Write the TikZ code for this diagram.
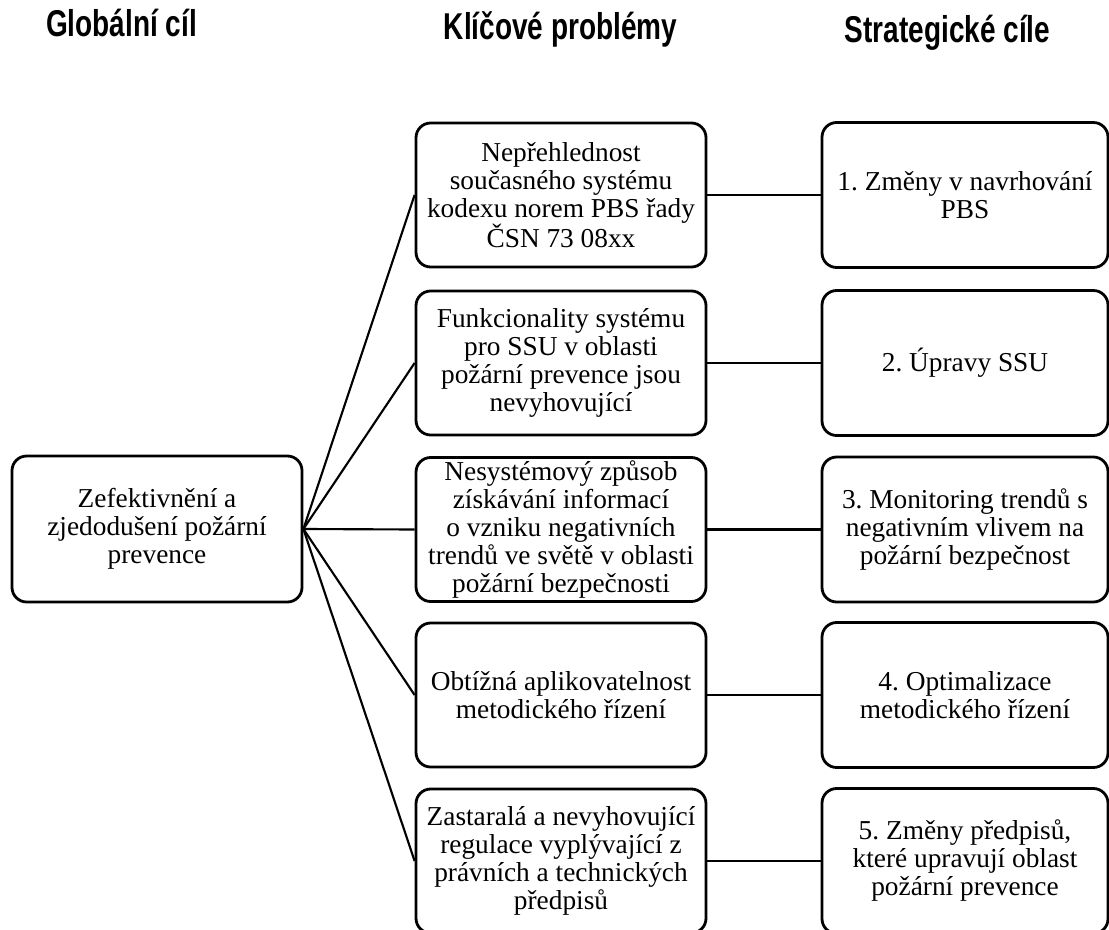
\documentclass[tikz,border=0pt]{standalone}
\usepackage{fontspec}
\setmainfont{Liberation Serif}
\newfontfamily\headfont[FakeStretch=0.75]{Liberation Sans}
\frenchspacing
\begin{document}
\begin{tikzpicture}[x=0.75pt,y=-0.75pt,
  box/.style={draw=black, line width=2.1pt, rounded corners=11pt, fill=white,
    inner sep=0pt, align=center, minimum width=217.5pt, minimum height=108pt,
    font=\fontsize{20.5pt}{21pt}\selectfont},
  goalbox/.style={box, minimum height=109.5pt},
  targetbox/.style={box, minimum width=214.5pt, minimum height=108.75pt},
  head/.style={anchor=base, inner sep=0pt, font=\headfont\bfseries\fontsize{28pt}{32pt}\selectfont},
  link/.style={draw=black, line width=1.6pt}]
\useasboundingbox (0,0) rectangle (1109,930);

% column headings
\node[head] (h1) at (121.5,37) {Globální cíl};
\node[head] (h2) at (560.5,40) {Klíčové problémy};
\node[head] (h3) at (947.5,43) {Strategické cíle};

% global goal
\node[goalbox] (g) at (157,529) {Zefektivnění a\\zjedodušení požární\\prevence};

% key problems
\node[box] (p1) at (561,195) {Nepřehlednost\\současného systému\\kodexu norem PBS řady\\ČSN 73 08xx};
\node[box] (p2) at (561,363) {Funkcionality systému\\pro SSU v oblasti\\požární prevence jsou\\nevyhovující};
\node[box] (p3) at (561,529.5) {Nesystémový způsob\\získávání informací\\o vzniku negativních\\trendů ve světě v oblasti\\požární bezpečnosti};
\node[box] (p4) at (561,695) {Obtížná aplikovatelnost\\metodického řízení};
\node[box] (p5) at (561,861) {Zastaralá a nevyhovující\\regulace vyplývající z\\právních a technických\\předpisů};

% strategic goals
\node[targetbox] (s1) at (965,195) {1. Změny v navrhování\\PBS};
\node[targetbox] (s2) at (965,363) {2. Úpravy SSU};
\node[targetbox] (s3) at (965,529.5) {3. Monitoring trendů s\\negativním vlivem na\\požární bezpečnost};
\node[targetbox] (s4) at (965,695) {4. Optimalizace\\metodického řízení};
\node[targetbox] (s5) at (965,861) {5. Změny předpisů,\\které upravují oblast\\požární prevence};

% connectors
\foreach \i in {1,...,5} {
  \draw[link] (g.east) -- (p\i.west);
  \draw[link] (p\i.east) -- (s\i.west);
}
\end{tikzpicture}
\end{document}
